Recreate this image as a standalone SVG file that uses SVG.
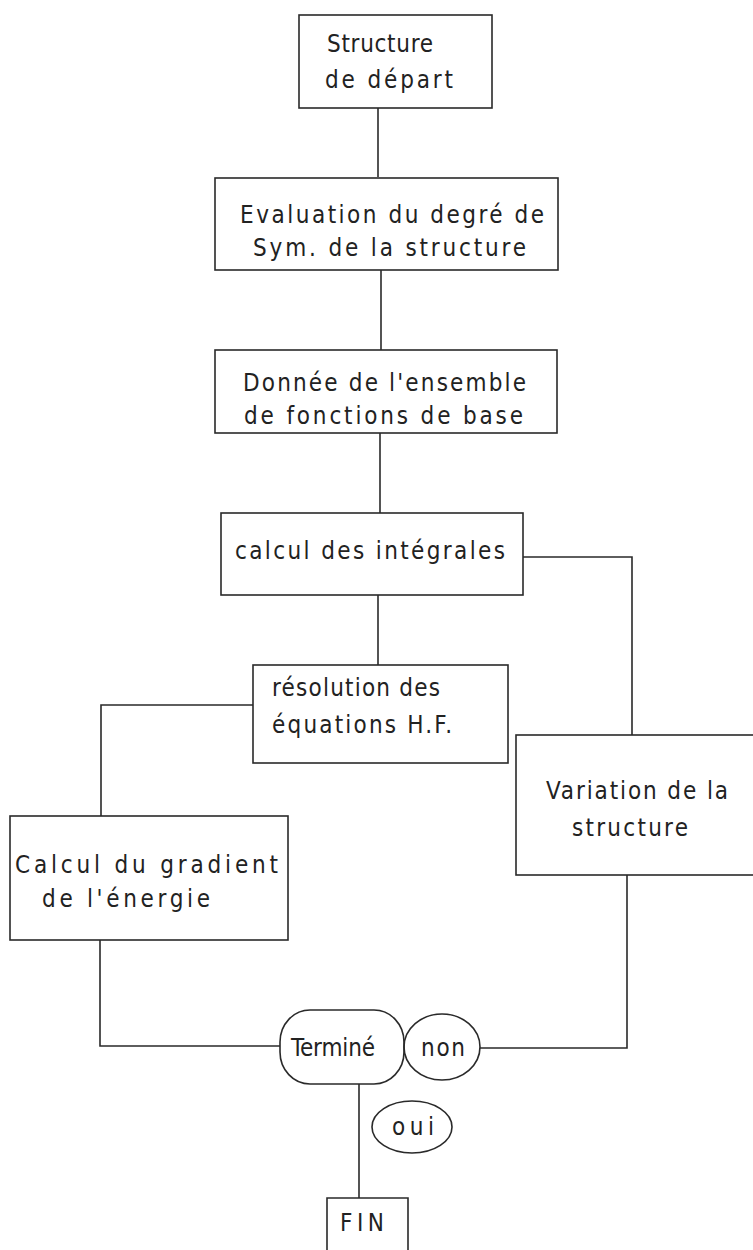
<svg xmlns="http://www.w3.org/2000/svg" width="753" height="1250" viewBox="0 0 753 1250">
<style>
.box{fill:none;stroke:#2a2a2a;stroke-width:1.6}
.ln{fill:none;stroke:#2a2a2a;stroke-width:1.6}
text{font-family:"DejaVu Sans Condensed","Liberation Sans Narrow","Liberation Sans",sans-serif;font-stretch:condensed;font-size:24px;fill:#222}
</style>
<rect width="753" height="1250" fill="#fff"/>
<g id="connectors">
<polyline class="ln" points="378,108 378,177"/>
<polyline class="ln" points="381,270 381,350"/>
<polyline class="ln" points="380,433 380,513"/>
<polyline class="ln" points="378,595 378,665"/>
<polyline class="ln" points="523,557 632,557 632,735"/>
<polyline class="ln" points="253,705 101,705 101,816"/>
<polyline class="ln" points="100,940 100,1046 280,1046"/>
<polyline class="ln" points="627,875 627,1048 480,1048"/>
<polyline class="ln" points="359,1084 359,1198"/>
</g>
<g id="n1">
<rect class="box" x="299" y="15" width="193" height="93"/>
<text x="327" y="52" textLength="106" lengthAdjust="spacing">Structure</text>
<text x="325" y="88" textLength="128" lengthAdjust="spacing">de  départ</text>
</g>
<g id="n2">
<rect class="box" x="215" y="178" width="343" height="92"/>
<text x="240" y="223" textLength="304" lengthAdjust="spacing">Evaluation du degré de</text>
<text x="253" y="256" textLength="273" lengthAdjust="spacing">Sym.  de la structure</text>
</g>
<g id="n3">
<rect class="box" x="215" y="350" width="342" height="83"/>
<text x="243" y="391" textLength="283" lengthAdjust="spacing">Donnée de l'ensemble</text>
<text x="244" y="424" textLength="279" lengthAdjust="spacing">de fonctions de base</text>
</g>
<g id="n4">
<rect class="box" x="221" y="513" width="302" height="82"/>
<text x="235" y="559" textLength="270" lengthAdjust="spacing">calcul  des  intégrales</text>
</g>
<g id="n5">
<rect class="box" x="253" y="665" width="255" height="98"/>
<text x="272" y="696" textLength="168" lengthAdjust="spacing">résolution  des</text>
<text x="272" y="733" textLength="180" lengthAdjust="spacing">équations  H.F.</text>
</g>
<g id="n6">
<rect class="box" x="10" y="816" width="278" height="124"/>
<text x="15" y="873" textLength="263" lengthAdjust="spacing">Calcul du gradient</text>
<text x="42" y="907" textLength="168" lengthAdjust="spacing">de l'énergie</text>
</g>
<g id="n7">
<rect class="box" x="516" y="735" width="245" height="140"/>
<text x="546" y="799" textLength="182" lengthAdjust="spacing">Variation de la</text>
<text x="572" y="836" textLength="116" lengthAdjust="spacing">structure</text>
</g>
<g id="n8">
<rect class="box" x="280" y="1010" width="124" height="74" rx="30" ry="32"/>
<text x="291" y="1056" textLength="84" lengthAdjust="spacing">Terminé</text>
</g>
<g id="n9">
<ellipse class="box" cx="442" cy="1047" rx="38" ry="33"/>
<text x="421" y="1056" textLength="44" lengthAdjust="spacing">non</text>
</g>
<g id="n10">
<ellipse class="box" cx="412" cy="1127" rx="40" ry="26"/>
<text x="392" y="1135" textLength="42" lengthAdjust="spacing">oui</text>
</g>
<g id="n11">
<polyline class="box" points="327,1250 327,1198 408,1198 408,1250"/>
<text x="340" y="1231" textLength="44" lengthAdjust="spacing">FIN</text>
</g>
</svg>
